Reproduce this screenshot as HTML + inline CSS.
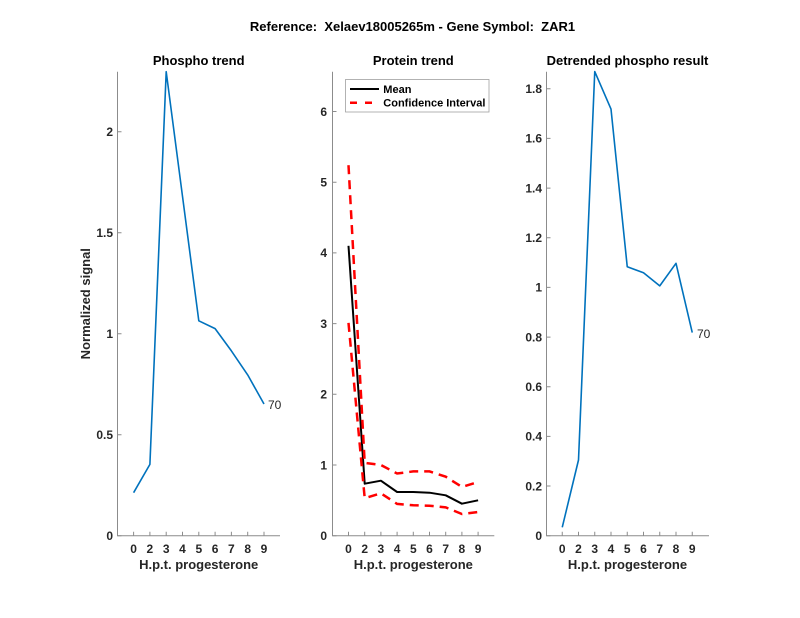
<!DOCTYPE html>
<html><head><meta charset="utf-8"><style>
html,body{margin:0;padding:0;background:#fff;}
svg{display:block;}
text{font-family:"Liberation Sans",Arial,sans-serif;}
.t{font-size:12px;font-weight:bold;fill:#262626;}
.ti{font-size:13px;font-weight:bold;fill:#000;}
.ax{stroke:#8c8c8c;stroke-width:1;fill:none;}
</style></head><body>
<svg width="800" height="618" viewBox="0 0 800 618" xmlns="http://www.w3.org/2000/svg">
<rect width="800" height="618" fill="#fff"/>
<text x="412.5" y="31" text-anchor="middle" class="ti">Reference:&#160; Xelaev18005265m - Gene Symbol:&#160; ZAR1</text>

<!-- LEFT PANEL -->
<text x="198.7" y="65" text-anchor="middle" class="ti">Phospho trend</text>
<path class="ax" d="M117.5 71.7V535.7H280"/>
<g class="ax">
<path d="M117.5 535.7h4M117.5 434.7h4M117.5 333.7h4M117.5 232.7h4M117.5 131.7h4"/>
<path d="M133.6 535.7v-4M149.9 535.7v-4M166.2 535.7v-4M182.5 535.7v-4M198.8 535.7v-4M215.1 535.7v-4M231.4 535.7v-4M247.7 535.7v-4M264 535.7v-4"/>
</g>
<g class="t" text-anchor="end">
<text x="113" y="540">0</text><text x="113" y="439">0.5</text><text x="113" y="338">1</text><text x="113" y="237">1.5</text><text x="113" y="136">2</text>
</g>
<g class="t" text-anchor="middle">
<text x="133.6" y="553">0</text><text x="149.9" y="553">2</text><text x="166.2" y="553">3</text><text x="182.5" y="553">4</text><text x="198.8" y="553">5</text><text x="215.1" y="553">6</text><text x="231.4" y="553">7</text><text x="247.7" y="553">8</text><text x="264" y="553">9</text>
</g>
<text x="198.7" y="569" text-anchor="middle" class="ti" style="fill:#262626">H.p.t. progesterone</text>
<text transform="translate(90,303.7) rotate(-90)" text-anchor="middle" class="ti" style="fill:#262626">Normalized signal</text>
<polyline fill="none" stroke="#0072BD" stroke-width="1.6" stroke-linejoin="round" points="133.6,492.7 149.9,464.4 166.2,71.7 182.5,196.3 198.8,320.8 215.1,328.6 231.4,350.9 247.7,374.9 264,404"/>
<text x="268" y="409" style="font-size:12px;fill:#262626">70</text>

<!-- MIDDLE PANEL -->
<text x="413.3" y="65" text-anchor="middle" class="ti">Protein trend</text>
<path class="ax" d="M332.5 71.7V535.7H494.3"/>
<g class="ax">
<path d="M332.5 535.7h4M332.5 465h4M332.5 394.3h4M332.5 323.6h4M332.5 252.9h4M332.5 182.2h4M332.5 111.5h4"/>
<path d="M348.5 535.7v-4M364.7 535.7v-4M380.9 535.7v-4M397.1 535.7v-4M413.3 535.7v-4M429.5 535.7v-4M445.7 535.7v-4M461.9 535.7v-4M478.1 535.7v-4"/>
</g>
<g class="t" text-anchor="end">
<text x="327" y="540">0</text><text x="327" y="469.3">1</text><text x="327" y="398.6">2</text><text x="327" y="327.9">3</text><text x="327" y="257.2">4</text><text x="327" y="186.5">5</text><text x="327" y="115.8">6</text>
</g>
<g class="t" text-anchor="middle">
<text x="348.5" y="553">0</text><text x="364.7" y="553">2</text><text x="380.9" y="553">3</text><text x="397.1" y="553">4</text><text x="413.3" y="553">5</text><text x="429.5" y="553">6</text><text x="445.7" y="553">7</text><text x="461.9" y="553">8</text><text x="478.1" y="553">9</text>
</g>
<text x="413.3" y="569" text-anchor="middle" class="ti" style="fill:#262626">H.p.t. progesterone</text>
<polyline fill="none" stroke="#000" stroke-width="2" stroke-linejoin="round" points="348.5,245.8 364.7,483.7 380.9,480.7 397.1,492 413.3,492 429.5,492.7 445.7,495.3 461.9,503.7 478.1,500.3"/>
<polyline fill="none" stroke="#ff0000" stroke-width="2.5" stroke-dasharray="9,6" points="348.5,165.2 364.7,462.9 380.9,465 397.1,473.5 413.3,471.4 429.5,471.4 445.7,476.7 461.9,486.9 478.1,482"/>
<polyline fill="none" stroke="#ff0000" stroke-width="2.5" stroke-dasharray="9,6" points="348.5,322.9 364.7,498.2 380.9,493.3 397.1,503.9 413.3,505.3 429.5,505.7 445.7,507.4 461.9,514 478.1,512"/>
<rect x="345.5" y="79.5" width="143.5" height="32.5" fill="#fff" stroke="#a0a0a0" stroke-width="0.8"/>
<line x1="350" y1="89" x2="379" y2="89" stroke="#000" stroke-width="2"/>
<line x1="350" y1="102.7" x2="379" y2="102.7" stroke="#ff0000" stroke-width="2.5" stroke-dasharray="7,8"/>
<text x="383.3" y="93" style="font-size:11px;font-weight:bold;fill:#000">Mean</text>
<text x="383.3" y="106.7" style="font-size:11px;font-weight:bold;fill:#000">Confidence Interval</text>

<!-- RIGHT PANEL -->
<text x="627.5" y="65" text-anchor="middle" class="ti">Detrended phospho result</text>
<path class="ax" d="M546.5 71.7V535.7H709"/>
<g class="ax">
<path d="M546.5 535.7h4M546.5 486h4M546.5 436.4h4M546.5 386.7h4M546.5 337.1h4M546.5 287.4h4M546.5 237.7h4M546.5 188.1h4M546.5 138.4h4M546.5 88.8h4"/>
<path d="M562.25 535.7v-4M578.5 535.7v-4M594.75 535.7v-4M611 535.7v-4M627.25 535.7v-4M643.5 535.7v-4M659.75 535.7v-4M676 535.7v-4M692.25 535.7v-4"/>
</g>
<g class="t" text-anchor="end">
<text x="542" y="540">0</text><text x="542" y="490.3">0.2</text><text x="542" y="440.7">0.4</text><text x="542" y="391">0.6</text><text x="542" y="341.4">0.8</text><text x="542" y="291.7">1</text><text x="542" y="242">1.2</text><text x="542" y="192.4">1.4</text><text x="542" y="142.7">1.6</text><text x="542" y="93.1">1.8</text>
</g>
<g class="t" text-anchor="middle">
<text x="562.25" y="553">0</text><text x="578.5" y="553">2</text><text x="594.75" y="553">3</text><text x="611" y="553">4</text><text x="627.25" y="553">5</text><text x="643.5" y="553">6</text><text x="659.75" y="553">7</text><text x="676" y="553">8</text><text x="692.25" y="553">9</text>
</g>
<text x="627.5" y="569" text-anchor="middle" class="ti" style="fill:#262626">H.p.t. progesterone</text>
<polyline fill="none" stroke="#0072BD" stroke-width="1.6" stroke-linejoin="round" points="562.25,527.3 578.5,460 594.75,71.6 611,109.1 627.25,266.8 643.5,272.7 659.75,285.9 676,263.3 692.25,332.6"/>
<text x="697" y="338" style="font-size:12px;fill:#262626">70</text>
</svg>
</body></html>
